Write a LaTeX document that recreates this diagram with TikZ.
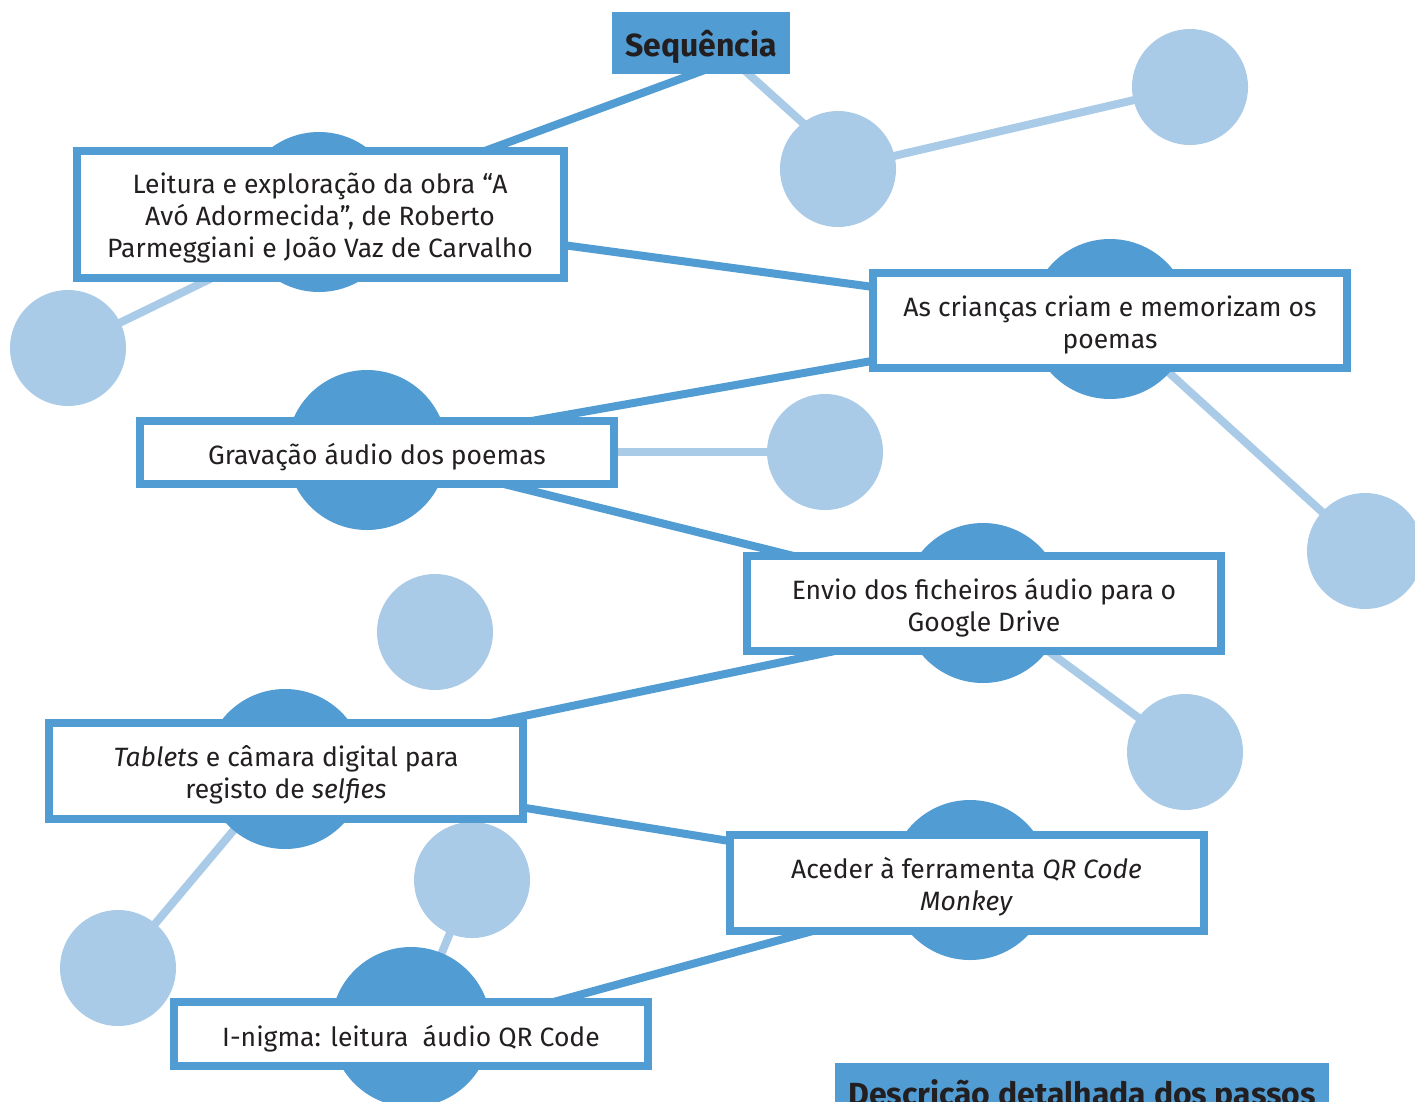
\documentclass[tikz,border=0pt]{standalone}
\usepackage{fontspec}
\setmainfont{Fira Sans}
\usetikzlibrary{backgrounds}
\definecolor{mapdark}{HTML}{509CD3}
\definecolor{maplight}{HTML}{A9CBE8}
\definecolor{inkdark}{HTML}{231F20}

\begin{document}
\begin{tikzpicture}[x=1pt,y=-1pt,
  hub/.style={circle,fill=mapdark,minimum size=160pt,inner sep=0pt},
  leaf/.style={circle,fill=maplight,minimum size=116pt,inner sep=0pt},
  stepbox/.style={draw=mapdark,fill=white,line width=8pt,inner sep=0pt,
    minimum width=474pt,minimum height=95pt},
  steptext/.style={inner sep=0pt,align=center,text=inkdark,
    font=\fontsize{26.5}{32}\selectfont},
  titlebox/.style={fill=mapdark,inner sep=0pt},
  titletext/.style={inner sep=0pt,text=inkdark,
    font=\bfseries\fontsize{32}{38}\selectfont},
  darklink/.style={draw=mapdark,line width=8pt},
  lightlink/.style={draw=maplight,line width=8pt}]

\useasboundingbox (0,0) rectangle (1415,1101);

% hub discs behind the step boxes
\node[hub] (h1) at (319,212) {};
\node[hub] (h2) at (1110,319) {};
\node[hub] (h3) at (367,450) {};
\node[hub] (h4) at (983,603) {};
\node[hub] (h5) at (285,769) {};
\node[hub] (h6) at (970,880) {};
\node[hub] (h7) at (411,1027) {};

% light satellite discs
\node[leaf] (l1) at (838,169) {};
\node[leaf] (l2) at (1190,87) {};
\node[leaf] (l3) at (68,348) {};
\node[leaf] (l4) at (825,452) {};
\node[leaf] (l5) at (1365,551) {};
\node[leaf] (l6) at (435,632) {};
\node[leaf] (l7) at (1185,752) {};
\node[leaf] (l8) at (118,968) {};
\node[leaf] (l9) at (472,880) {};

% titles
\node[titlebox,minimum width=178pt,minimum height=62pt] (seq) at (701,43) {};
\node[titletext] (seqt) at ([shift={(0,4)}]seq.center) {Sequência};
\node[titlebox,minimum width=494pt,minimum height=60pt] (desc) at (1082,1093) {};
\node[titletext] (desct) at ([shift={(0,4)}]desc.center) {Descrição detalhada dos passos};

% steps
\node[stepbox,minimum width=487pt,minimum height=127pt] (b1) at (320,214) {};
\node[steptext] (t1) at ([shift={(0,4)}]b1.center)
  {Leitura e exploração da obra “A\\Avó Adormecida”, de Roberto\\Parmeggiani e João Vaz de Carvalho};
\node[stepbox] (b2) at (1110,320) {};
\node[steptext] (t2) at ([shift={(0,5)}]b2.center) {As crianças criam e memorizam os\\poemas};
\node[stepbox,minimum height=63pt] (b3) at (377,452) {};
\node[steptext] (t3) at ([shift={(0,5)}]b3.center) {Gravação áudio dos poemas};
\node[stepbox] (b4) at (984,603.5) {};
\node[steptext] (t4) at ([shift={(0,4.5)}]b4.center) {Envio dos ficheiros áudio para o\\Google Drive};
\node[stepbox,minimum height=96pt] (b5) at (286,770.5) {};
\node[steptext] (t5) at ([shift={(0,4)}]b5.center) {\textit{Tablets} e câmara digital para\\registo de \textit{selfies}};
\node[stepbox,minimum height=96pt] (b6) at (966.5,883) {};
\node[steptext] (t6) at ([shift={(0,4)}]b6.center) {Aceder à ferramenta \textit{QR Code}\\\textit{Monkey}};
\node[stepbox,minimum height=64pt] (b7) at (411,1034) {};
\node[steptext] (t7) at ([shift={(0,5)}]b7.center) {I-nigma: leitura\ \ áudio QR Code};

% connectors, kept underneath everything else
\begin{scope}[on background layer]
  \fill[white] (0,0) rectangle (1415,1101);
  \draw[lightlink] ([shift={(7,-8)}]l1.center) -- ([shift={(21,7)}]seq.center);
  \draw[lightlink] (l1.center) -- (l2.center);
  \draw[lightlink] (l3.center) -- ([shift={(0,14)}]h1.center);
  \draw[lightlink] (h2.center) -- (l5.center);
  \draw[lightlink] (b3.center) -- (l4.center);
  \draw[lightlink] (h4.center) -- (l7.center);
  \draw[lightlink] (h5.center) -- (l8.center);
  \draw[lightlink] (l9.center) -- (h7.center);
  \draw[darklink] (h1.center) -- ([shift={(20,21)}]seq.center);
  \draw[darklink] (h1.center) -- (h2.center);
  \draw[darklink] (h2.center) -- (h3.center);
  \draw[darklink] (h3.center) -- (h4.center);
  \draw[darklink] ([shift={(0,-3)}]h5.center) -- ([shift={(0,17)}]h4.center);
  \draw[darklink] (h5.center) -- (h6.center);
  \draw[darklink] ([shift={(-4,9)}]h6.center) -- ([shift={(0,14)}]h7.center);
\end{scope}
\end{tikzpicture}
\end{document}
